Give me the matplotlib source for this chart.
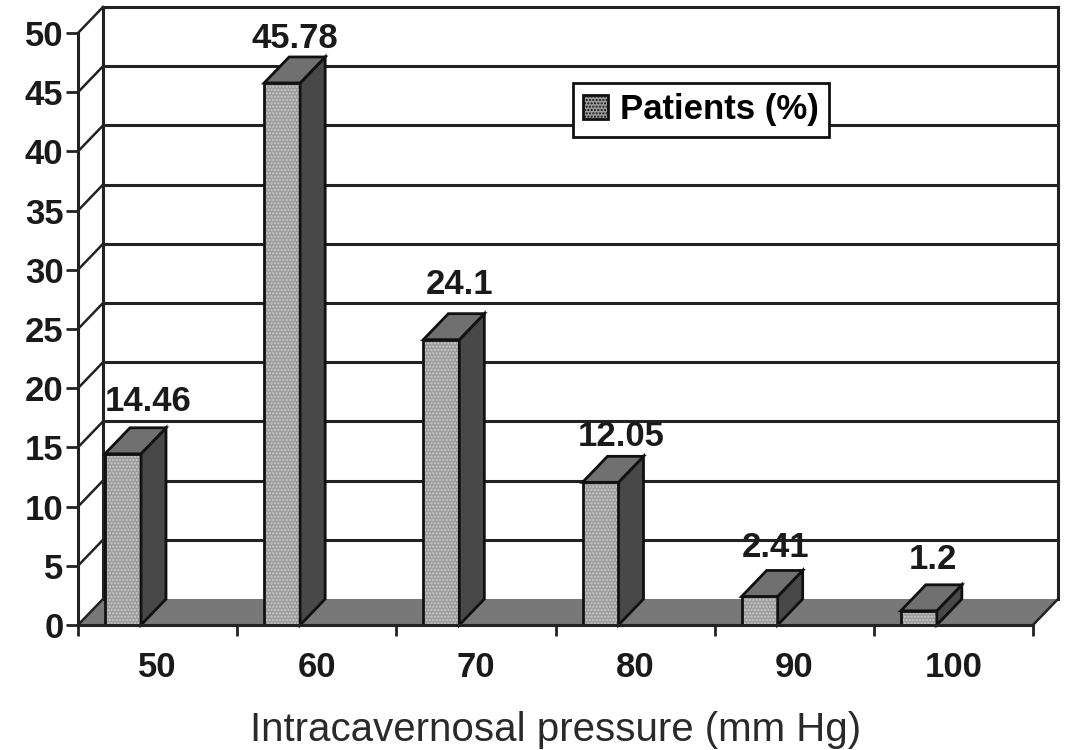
import matplotlib
matplotlib.use("Agg")
import matplotlib.pyplot as plt

plt.rcParams['font.family'] = ['Liberation Sans', 'DejaVu Sans']
plt.rcParams['hatch.linewidth'] = 1.0

pressure = ['50', '60', '70', '80', '90', '100']
patients = [14.46, 45.78, 24.1, 12.05, 2.41, 1.2]
value_labels = ['14.46', '45.78', '24.1', '12.05', '2.41', '1.2']
y_ticks = list(range(0, 55, 5))

W, H = 1071, 750
LEFT, RIGHT, TOP, BOTTOM = 78, 1033, 33, 625

fig = plt.figure(figsize=(W / 100, H / 100), dpi=100)
ax = fig.add_axes([LEFT / W, 1 - BOTTOM / H, (RIGHT - LEFT) / W, (BOTTOM - TOP) / H])
ax.set_xlim(0, len(pressure))
ax.set_ylim(0, 50)

# depth of the fake 3d, pixels turned into data units
dx = 25 / ((RIGHT - LEFT) / len(pressure))
dy = 26 / ((BOTTOM - TOP) / 50)
bar_left = 27 / ((RIGHT - LEFT) / len(pressure))
bar_w = 36 / ((RIGHT - LEFT) / len(pressure))
n = len(pressure)

# floor
ax.fill([0, dx, n + dx, n], [0, dy, dy, 0], color='#787878', lw=0, zorder=1, clip_on=False)

# back wall and its gridlines, plus the slanted bits on the left
for t in y_ticks:
    if t > 0:
        ax.plot([dx, n + dx], [t + dy, t + dy], color='#222222', lw=2.2, zorder=2, clip_on=False)
    ax.plot([0, dx], [t, t + dy], color='#222222', lw=1.8, zorder=2, clip_on=False)
ax.plot([dx, dx], [dy, 50 + dy], color='#222222', lw=2.2, zorder=2, clip_on=False)
ax.plot([n + dx, n + dx], [dy, 50 + dy], color='#222222', lw=2.2, zorder=2, clip_on=False)
ax.plot([n, n + dx], [0, dy], color='#222222', lw=1.8, zorder=2, clip_on=False)

# bars
for i, v in enumerate(patients):
    x0 = i + bar_left
    x1 = x0 + bar_w
    ax.fill([x0, x1, x1, x0], [0, 0, v, v], facecolor='#9c9c9c', edgecolor='#cccccc',
            hatch='.....', lw=0, zorder=3, clip_on=False)
    ax.plot([x0, x1, x1, x0, x0], [0, 0, v, v, 0], color='#111111', lw=2, zorder=4, clip_on=False)
    ax.fill([x1, x1 + dx, x1 + dx, x1], [0, dy, v + dy, v], facecolor='#484848',
            edgecolor='#111111', lw=2, zorder=4, clip_on=False)
    ax.fill([x0, x1, x1 + dx, x0 + dx], [v, v, v + dy, v + dy], facecolor='#707070',
            edgecolor='#111111', lw=2, zorder=4, clip_on=False)

# value labels, nudged by hand over the bar tops
label_x = [0.44, 0.36, 0.40, 0.41, 0.38, 0.37]
label_up = [2.2, 1.6, 2.5, 1.7, 1.95, 2.1]
for i, v in enumerate(patients):
    ax.text(i + label_x[i], v + dy + label_up[i], value_labels[i], ha='center', va='center',
            fontsize=25, fontweight='bold', color='#1a1a1a', zorder=6, clip_on=False)

# axes
for s in ['top', 'right']:
    ax.spines[s].set_visible(False)
ax.spines['left'].set_linewidth(2.2)
ax.spines['bottom'].set_linewidth(2.2)
ax.spines['left'].set_color('#222222')
ax.spines['bottom'].set_color('#222222')
ax.spines['bottom'].set_zorder(5)
ax.patch.set_alpha(0)

ax.set_yticks(y_ticks)
ax.tick_params(axis='y', length=8.5, width=2, color='#222222', pad=2, labelsize=25, labelcolor='#1a1a1a')
ax.set_xticks(range(n + 1))
ax.set_xticklabels([])
ax.set_xticks([i + 0.5 for i in range(n)], minor=True)
ax.set_xticklabels(pressure, minor=True, fontsize=25, fontweight='bold', color='#1a1a1a')
ax.tick_params(axis='x', which='major', length=8, width=2, color='#222222')
ax.tick_params(axis='x', which='minor', length=0, pad=19)
for lab in ax.get_yticklabels():
    lab.set_fontweight('bold')

ax.set_xlabel('Intracavernosal pressure (mm Hg)', fontsize=29, color='#2a2a2a', labelpad=19)

# legend
handle = plt.Rectangle((0, 0), 1, 1, facecolor='#9c9c9c', edgecolor='#111111', lw=2, hatch='.....')
leg = ax.legend([handle], ['Patients (%)'], loc='upper left',
                bbox_to_anchor=((573 - LEFT) / (RIGHT - LEFT), (BOTTOM - 83) / (BOTTOM - TOP)),
                fancybox=False, framealpha=1, edgecolor='#111111', borderaxespad=0,
                prop={'size': 25, 'weight': 'bold'}, handlelength=0.7, handleheight=0.7,
                handletextpad=0.35, borderpad=0.3)
leg.get_frame().set_linewidth(2)
leg.set_zorder(7)

fig.savefig('out.png', dpi=100)
